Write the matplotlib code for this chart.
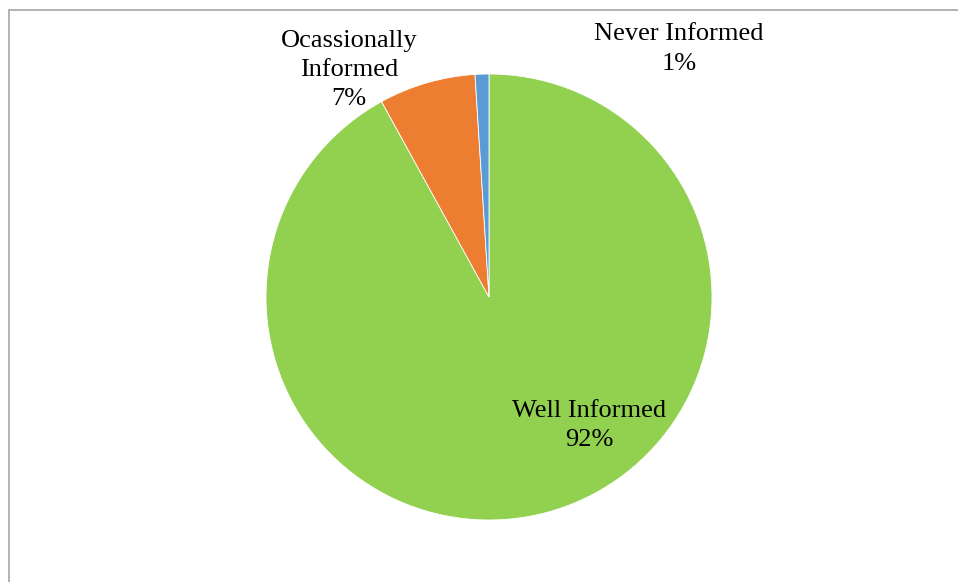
import matplotlib.pyplot as plt
from matplotlib.patches import Rectangle

categories = ["Well Informed", "Ocassionally\nInformed", "Never Informed"]
shares = [92, 7, 1]
colors = ["#92D050", "#ED7D31", "#5B9BD5"]

plt.rcParams['font.family'] = ['Liberation Serif', 'DejaVu Serif']

W, H = 958, 582
fig = plt.figure(figsize=(W / 100, H / 100), dpi=100)

# pie centre and radius in pixels
cx, cy, r = 489, 297, 223
ax = fig.add_axes([(cx - r) / W, (H - cy - r) / H, 2 * r / W, 2 * r / H])
ax.pie(shares, colors=colors, startangle=90, counterclock=False,
       wedgeprops=dict(edgecolor='white', linewidth=0.6), radius=1)
ax.set_xlim(-1, 1)
ax.set_ylim(-1, 1)
ax.set_aspect('equal')
ax.axis('off')

# label positions (data units, radius = 1)
label_pos = [(0.448, -0.575), (-0.628, 1.017), (0.852, 1.112)]
for name, val, (lx, ly) in zip(categories, shares, label_pos):
    ax.text(lx, ly, f"{name}\n{val}%", ha='center', va='center',
            fontsize=19, linespacing=1.42, color='black', clip_on=False)

# chart-area border (cut at right and bottom in the original)
fig.patches.append(Rectangle((9 / W, -0.1), 1.2, (H - 10) / H + 0.1,
                             transform=fig.transFigure, fill=False,
                             edgecolor='#a6a6a6', linewidth=1.2))

fig.savefig("out.png", dpi=100)
